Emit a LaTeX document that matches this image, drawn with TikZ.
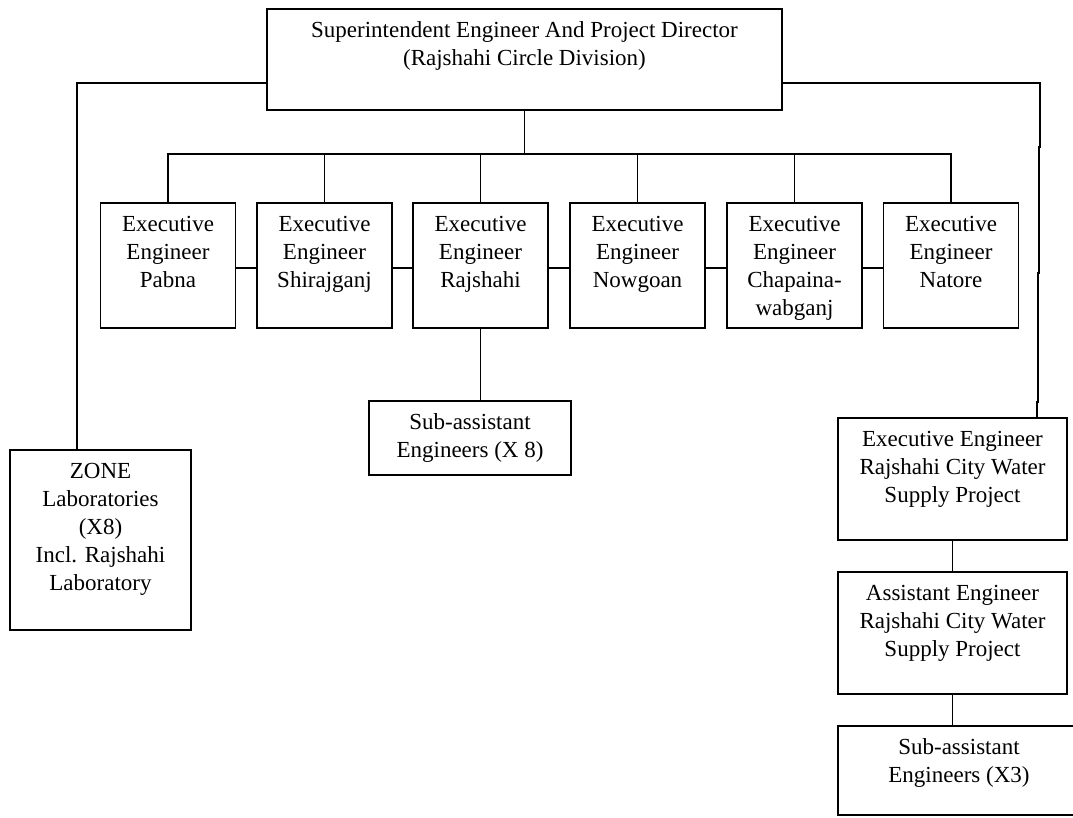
\documentclass[tikz,border=0pt]{standalone}
\usepackage{fontspec}
\setmainfont{Liberation Serif}
\begin{document}
\begin{tikzpicture}[x=1pt,y=-1pt,
  box/.style={draw, rectangle, inner sep=0pt, line width=1.2pt},
  lbl/.style={anchor=north, align=center, inner sep=0pt,
              font=\fontsize{23}{28}\selectfont},
  link/.style={line width=1.2pt}]
\useasboundingbox (0,0) rectangle (1073,817);

% boxes
\node[box, minimum width=515pt, minimum height=101pt] (top) at (524.5,59.5) {};
\node[box, minimum width=135pt, minimum height=125pt] (pabna)    at (168,265.5) {};
\node[box, minimum width=135pt, minimum height=125pt] (shiraj)   at (324.5,265.5) {};
\node[box, minimum width=135pt, minimum height=125pt] (rajshahi) at (480.5,265.5) {};
\node[box, minimum width=135pt, minimum height=125pt] (nowgoan)  at (637.5,265.5) {};
\node[box, minimum width=135pt, minimum height=125pt] (chapai)   at (794.5,265.5) {};
\node[box, minimum width=135pt, minimum height=125pt] (natore)   at (951,265.5) {};
\node[box, minimum width=202pt, minimum height=74pt]  (subeight) at (470,438) {};
\node[box, minimum width=181pt, minimum height=180pt] (zone)     at (100.5,540) {};
\node[box, minimum width=229pt, minimum height=122pt] (rexec)    at (952.5,479) {};
\node[box, minimum width=229pt, minimum height=122pt] (asst)     at (952.5,633) {};
\node[box, minimum width=242pt, minimum height=89pt]  (subthree) at (959,770.5) {};

% labels
\node[lbl] (ttop) at ([yshift=-9pt]top.north) {\rule{0pt}{20pt}Superintendent Engineer And Project Director\\(Rajshahi Circle Division)};
\node[lbl] (tpabna) at ([yshift=-9pt]pabna.north) {\rule{0pt}{20pt}Executive\\Engineer\\Pabna};
\node[lbl] (tshiraj) at ([yshift=-9pt]shiraj.north) {\rule{0pt}{20pt}Executive\\Engineer\\Shirajganj};
\node[lbl] (trajshahi) at ([yshift=-9pt]rajshahi.north) {\rule{0pt}{20pt}Executive\\Engineer\\Rajshahi};
\node[lbl] (tnowgoan) at ([yshift=-9pt]nowgoan.north) {\rule{0pt}{20pt}Executive\\Engineer\\Nowgoan};
\node[lbl] (tchapai) at ([yshift=-9pt]chapai.north) {\rule{0pt}{20pt}Executive\\Engineer\\Chapaina-\\wabganj};
\node[lbl] (tnatore) at ([yshift=-9pt]natore.north) {\rule{0pt}{20pt}Executive\\Engineer\\Natore};
\node[lbl] (tsubeight) at ([yshift=-9pt]subeight.north) {\rule{0pt}{20pt}Sub-assistant\\Engineers (X 8)};
\node[lbl] (tzone) at ([yshift=-9pt]zone.north) {\rule{0pt}{20pt}ZONE\\Laboratories\\(X8)\\Incl. Rajshahi\\Laboratory};
\node[lbl] (trexec) at ([yshift=-9pt]rexec.north) {\rule{0pt}{20pt}Executive Engineer\\Rajshahi City Water\\Supply Project};
\node[lbl] (tasst) at ([yshift=-9pt]asst.north) {\rule{0pt}{20pt}Assistant Engineer\\Rajshahi City Water\\Supply Project};
\node[lbl] (tsubthree) at ([yshift=-9pt]subthree.north) {\rule{0pt}{20pt}Sub-assistant\\Engineers (X3)};

% connectors
\coordinate (bus) at (525,154);
\draw[link] (top.south) -- (top.south |- bus);
\draw[link] (pabna.north) |- (natore.north |- bus) -- (natore.north);
\foreach \n in {shiraj,rajshahi,nowgoan,chapai}
  \draw[link] (\n.north) -- (\n.north |- bus);

\foreach \a/\b in {pabna/shiraj,shiraj/rajshahi,rajshahi/nowgoan,nowgoan/chapai,chapai/natore}
  \draw[link] ([yshift=-2.5pt]\a.east) -- ([yshift=-2.5pt]\b.west);

\draw[link] (rajshahi.south) -- (rajshahi.south |- subeight.north);

\draw[link] ([yshift=-23.5pt]top.west) -| ([xshift=-23.5pt]zone.north);

\draw[link] ([yshift=-23.5pt]top.east) -- (1040,83) -- (1040,147) -- (1039,147)
  -- (1039,273) -- (1038,273) -- (1038,402) -- (1037,402)
  -- ([xshift=84.5pt]rexec.north);

\draw[link] (rexec.south) -- (asst.north);
\draw[link] (asst.south) -- (asst.south |- subthree.north);
\end{tikzpicture}
\end{document}
